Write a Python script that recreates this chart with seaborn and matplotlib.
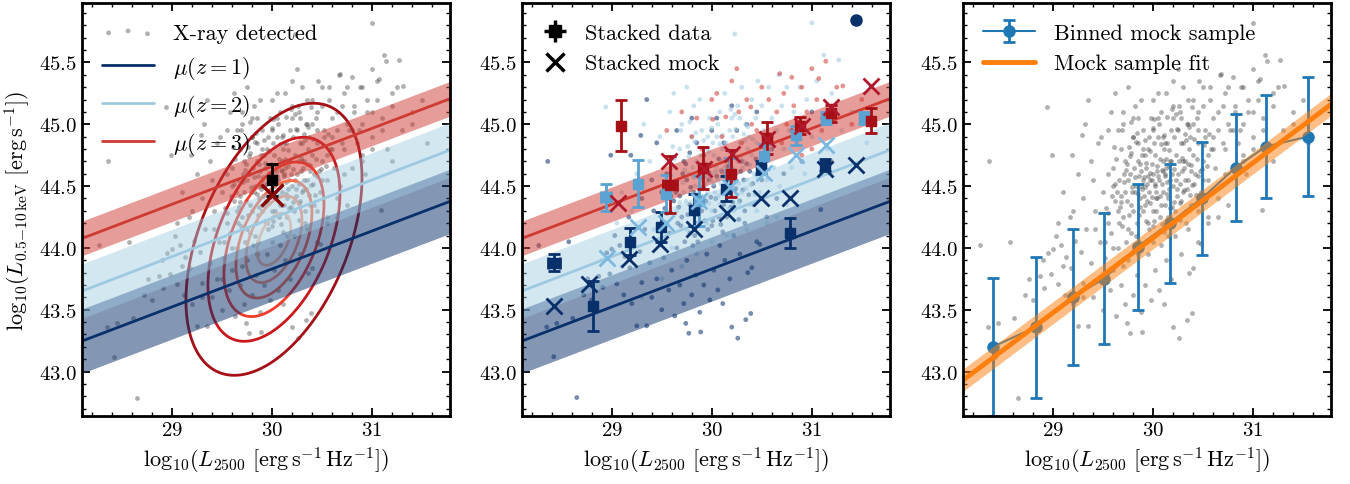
import numpy as np
import pandas as pd
import matplotlib
matplotlib.use("Agg")
import matplotlib.pyplot as plt
from matplotlib.ticker import MultipleLocator
import seaborn as sns

# ---------------- data ----------------
# X-ray detected sources, grouped by redshift bin
z1_x = [28.27,28.36,28.35,28.42,28.45,28.61,28.65,28.57,28.72,28.80,28.76,28.87,28.91,28.98,
        28.95,29.03,29.00,29.08,29.13,29.17,29.05,29.12,29.20,29.25,29.35,29.18,29.22,29.28,29.30,
        29.33,29.38,29.40,29.42,29.45,29.47,29.50,29.52,29.55,29.57,29.60,29.62,29.63,29.65,29.68,
        29.70,29.72,29.74,29.75,29.77,29.78,29.80,29.82,29.84,29.86,29.88,29.89,29.90,29.92,29.95,
        29.97,29.98,30.00,30.02,30.04,30.06,30.08,30.10,30.11,30.13,30.15,30.18,30.20,30.22,30.24,
        30.26,30.28,30.30,30.33,30.34,30.36,30.39,30.40,30.42,30.45,30.48,30.50,30.55,30.60,30.65,
        30.72,30.80,30.90,31.09,31.00,29.35,29.29,28.99,29.19,29.45,29.55,29.65,29.72,29.80,29.85,
        29.92,30.00,30.05,30.12,30.20,30.25,30.35,30.45,30.52,29.60,29.50,29.40,29.30,29.75,29.68,
        29.88,30.07,30.17,30.38,29.58,29.66,29.78,29.94,30.02,29.84,29.73,29.53,30.28,30.32,29.96,30.12,
        29.55,29.62,29.69,29.71,29.76,29.79,29.83,29.87,29.91,29.93,29.99,30.03,30.05,30.09,30.14,
        30.16,30.19,30.23,30.27,30.31,30.35,30.41,29.64,29.81,29.97,30.11,30.29,29.59,29.74,29.92,
        30.07,30.21,30.37,29.67,29.86,30.01,30.18,30.33,29.78,30.44]
z1_y = [44.02,44.70,43.36,43.12,43.39,43.43,42.79,44.05,43.62,43.58,43.75,43.77,43.68,43.79,
        43.96,44.10,43.99,44.02,43.93,44.25,43.71,43.62,43.55,43.37,43.37,43.84,44.06,43.97,43.72,
        44.15,43.88,43.60,44.30,43.75,44.05,43.50,43.92,44.20,43.66,43.82,44.38,43.45,44.00,43.70,
        44.25,43.55,43.39,43.90,43.31,44.12,43.62,44.45,43.78,44.05,43.48,43.32,44.30,43.70,43.95,
        44.55,43.58,44.18,43.82,44.40,43.66,44.02,44.62,43.55,43.90,44.25,43.75,43.36,44.10,44.48,
        43.27,43.95,44.70,44.20,43.42,43.80,43.47,43.84,44.35,44.05,44.03,44.55,44.25,44.80,44.40,
        44.60,44.95,44.70,44.31,45.10,45.20,44.91,44.75,44.75,44.85,44.60,44.95,44.70,45.05,44.85,
        44.75,44.95,45.05,44.85,45.15,44.95,45.00,45.10,44.90,44.50,44.45,44.55,44.40,44.55,44.42,
        44.62,44.72,44.55,44.62,44.12,44.20,44.35,44.38,44.50,44.20,44.05,44.32,44.38,44.55,44.15,44.35,
        44.28,44.52,44.18,44.60,44.27,44.49,44.10,44.33,44.57,44.22,44.41,44.30,44.58,44.19,44.44,
        44.66,44.33,44.55,44.23,44.47,44.68,44.52,44.45,44.02,44.61,44.13,44.62,44.42,44.68,44.49,
        44.25,44.37,44.43,44.33,44.27,44.22,44.70,44.30,44.77,44.72]
z2_x = [28.94,29.05,29.10,29.20,29.25,29.32,29.38,29.42,29.48,29.52,29.58,29.60,29.62,29.65,
        29.68,29.70,29.72,29.75,29.77,29.80,29.80,29.82,29.83,29.85,29.87,29.88,29.90,29.90,29.92,
        29.93,29.95,29.96,29.98,30.00,30.00,30.02,30.03,30.05,30.06,30.08,30.08,30.10,30.10,30.12,
        30.13,30.14,30.15,30.17,30.18,30.20,30.20,30.22,30.23,30.23,30.25,30.26,30.28,30.30,30.30,
        30.32,30.34,30.35,30.37,30.38,30.40,30.40,30.42,30.44,30.45,30.46,30.48,30.50,30.50,30.52,
        30.55,30.57,30.58,30.60,30.62,30.65,30.67,30.68,30.70,30.72,30.75,30.77,30.80,30.82,30.85,
        30.88,30.90,30.93,30.95,31.00,31.00,31.05,31.10,31.12,31.15,31.20,31.27,31.30,31.40,31.55,
        28.90,29.10,29.30,29.50,29.70,29.85,30.00,30.15,30.35,30.55,30.75,29.60,29.75,29.95,30.45,30.65,
        29.86,29.94,30.04,30.09,29.99,29.91,30.16,30.07,29.97,30.13,30.19,29.81,29.89,30.24,30.27,
        29.79,30.01,30.11,29.96,30.21,30.31,29.74,30.36,30.26,
        29.63,29.66,29.69,29.73,29.76,29.78,29.82,29.84,29.87,29.89,29.92,29.95,29.97,30.00,30.02,
        30.04,30.06,30.09,30.11,30.14,30.16,30.19,30.21,30.24,30.27,30.29,30.32,30.34,30.38,30.41,
        30.43,30.47,30.51,30.54,29.71,29.85,29.99,30.13,30.28,30.45,29.61,29.77,29.93,30.08,30.23,
        30.39,30.56,29.68,29.83,30.03,30.17,30.33,30.49,29.88,30.12,30.36]
z2_y = [45.14,44.20,44.45,44.30,44.60,45.00,44.70,44.15,44.90,44.05,45.10,44.65,45.25,44.30,
        44.80,45.00,44.45,45.30,44.60,44.30,44.90,45.15,44.50,44.70,44.40,45.20,44.55,44.95,44.35,
        44.65,44.80,44.45,45.05,44.60,44.30,44.75,44.45,44.90,44.55,44.35,45.10,44.70,44.45,44.60,
        45.25,44.85,44.40,44.70,44.95,44.50,45.05,44.30,44.75,45.73,44.60,45.15,44.85,44.45,45.30,
        44.70,45.00,44.55,44.90,44.35,45.20,44.75,44.60,45.05,44.85,45.35,44.45,44.70,45.15,44.95,
        44.55,45.30,44.80,45.05,44.65,44.95,45.40,44.50,45.15,44.80,45.30,44.95,44.65,45.10,44.85,
        45.30,45.00,44.60,45.20,44.90,45.82,45.35,45.05,45.56,44.80,45.25,45.52,44.95,45.10,44.85,
        43.90,43.85,43.60,43.75,43.85,43.95,44.05,44.10,44.15,44.20,44.35,44.00,44.15,44.20,44.30,44.25,
        44.58,44.52,44.62,44.52,44.68,44.42,44.48,44.42,44.36,44.65,44.60,44.65,44.75,44.42,44.52,
        44.45,44.85,44.80,44.90,44.90,44.65,44.38,44.80,44.70,
        44.72,44.55,44.95,44.63,44.82,45.02,44.57,44.93,44.68,44.48,44.87,44.58,44.78,44.97,44.52,
        44.66,45.00,44.63,44.91,44.53,44.79,45.12,44.64,44.96,44.36,44.73,44.92,44.48,44.67,44.88,
        44.43,44.62,44.83,44.66,44.53,44.44,44.55,44.72,45.05,44.58,44.82,44.74,44.69,44.84,45.08,
        44.51,44.92,44.37,44.86,44.40,44.32,44.87,44.64,44.50,44.58,44.98]
z3_x = [29.55,29.70,29.85,30.01,30.05,30.14,30.20,30.27,30.35,30.39,30.45,30.50,30.57,30.60,
        30.65,30.68,30.72,30.75,30.80,30.82,30.87,30.90,30.95,31.00,31.05,31.07,31.10,31.14,31.20,
        31.25,31.31,31.40,31.50,29.90,30.10,30.30,30.40,30.55,30.70,31.00,31.20,30.25,30.00,29.80,30.90]
z3_y = [44.95,45.10,45.05,45.04,45.25,45.06,45.35,45.10,45.20,45.14,44.95,45.30,45.20,44.90,
        45.10,45.41,45.25,45.00,45.38,45.15,44.95,45.30,45.10,45.45,45.20,45.37,44.95,45.51,45.15,
        45.30,45.31,45.00,45.20,44.80,44.90,44.85,45.00,44.75,44.85,44.80,44.70,45.45,45.20,44.90,44.75]

# relation mu(z): value at log L2500 = 30, slope, scatter half-width
mu_labels = [r"$\mu(z=1)$", r"$\mu(z=2)$", r"$\mu(z=3)$"]
mu_at30 = [43.83, 44.24, 44.66]
mu_slope = [0.307, 0.310, 0.307]
mu_width = [0.26, 0.22, 0.14]

# panel 1 stacked point
p1_x, p1_y, p1_err = [30.0], [44.55], [0.13]
p1_mock_x, p1_mock_y = [30.0], [44.43]

# density contours of mock sample (gaussian summary)
cont_mean = (30.02, 44.07)
cont_sig = (0.40, 0.50)
cont_rho = 0.45
cont_radii = [2.2, 1.65, 1.25, 0.95, 0.70, 0.42]

# panel 2 stacked data / mock per redshift bin
st1_x = [28.42, 28.81, 29.18, 29.49, 29.82, 30.14, 30.49, 30.78, 31.13]
st1_y = [43.88, 43.53, 44.05, 44.17, 44.31, 44.48, 44.65, 44.12, 44.67]
st1_ye = [0.07, 0.20, 0.11, 0.12, 0.13, 0.10, 0.05, 0.12, 0.05]
st1_xe = [0.06, 0.0, 0.0, 0.0, 0.0, 0.0, 0.0, 0.0, 0.0]
mk1_x = [28.42, 28.77, 29.17, 29.48, 29.82, 30.15, 30.49, 30.78, 31.13, 31.44]
mk1_y = [43.53, 43.71, 43.91, 44.03, 44.15, 44.28, 44.40, 44.40, 44.64, 44.67]
st2_x = [28.94, 29.26, 29.54, 29.87, 30.18, 30.52, 30.84, 31.14, 31.52]
st2_y = [44.41, 44.52, 44.44, 44.38, 44.60, 44.74, 44.91, 45.05, 45.05]
st2_ye = [0.11, 0.19, 0.15, 0.20, 0.13, 0.10, 0.08, 0.05, 0.05]
st2_xe = [0.05, 0.0, 0.0, 0.0, 0.0, 0.0, 0.0, 0.0, 0.0]
mk2_x = [28.95, 29.26, 29.54, 29.87, 30.18, 30.52, 30.84, 31.14]
mk2_y = [43.92, 44.17, 44.20, 44.38, 44.49, 44.61, 44.75, 44.83]
st3_x = [29.09, 29.58, 29.91, 30.19, 30.55, 30.88, 31.19, 31.59]
st3_y = [44.99, 44.51, 44.65, 44.60, 44.89, 44.99, 45.09, 45.03]
st3_ye = [0.21, 0.23, 0.17, 0.19, 0.13, 0.07, 0.07, 0.10]
st3_xe = [0.0, 0.07, 0.0, 0.0, 0.0, 0.0, 0.0, 0.0]
mk3_x = [29.06, 29.57, 29.92, 30.20, 30.55, 30.90, 31.19, 31.59]
mk3_y = [44.36, 44.70, 44.64, 44.76, 44.88, 44.99, 45.14, 45.31]
outlier_x, outlier_y = [31.44], [45.84]

# panel 3 binned mock sample and fit
bin_x = [28.40, 28.83, 29.20, 29.51, 29.85, 30.17, 30.49, 30.83, 31.13, 31.55]
bin_y = [43.20, 43.36, 43.60, 43.75, 44.01, 44.20, 44.40, 44.65, 44.82, 44.90]
bin_e = [0.56, 0.57, 0.55, 0.53, 0.51, 0.48, 0.46, 0.43, 0.42, 0.48]
fit_at30, fit_slope, fit_width = 44.08, 0.606, 0.09

# ---------------- style ----------------
sns.set_style("ticks")
plt.rcParams.update({
    "font.family": ["cmr10", "DejaVu Serif"],
    "mathtext.fontset": "cm",
    "axes.formatter.use_mathtext": True,
    "axes.linewidth": 2.0,
    "axes.edgecolor": "black", "axes.labelcolor": "black", "text.color": "black",
    "xtick.color": "black", "ytick.color": "black",
    "xtick.direction": "in", "ytick.direction": "in",
    "xtick.top": True, "ytick.right": True,
    "xtick.major.size": 6, "ytick.major.size": 6,
    "xtick.minor.size": 3, "ytick.minor.size": 3,
    "xtick.major.width": 1.3, "ytick.major.width": 1.3,
    "xtick.minor.width": 1.0, "ytick.minor.width": 1.0,
    "xtick.labelsize": 15, "ytick.labelsize": 15,
    "legend.fontsize": 16,
})

NAVY, LBLUE, RED = "#08306b", "#9ecae1", "#cf3a32"
mu_cols = [NAVY, LBLUE, RED]
band_alpha = [0.5, 0.45, 0.5]

XLIM, YLIM = (28.1, 31.78), (42.64, 45.98)
xgrid = np.array(XLIM)

fig = plt.figure(figsize=(13.5, 4.85), dpi=100)
lefts = [0.0607, 0.3865, 0.7131]
axes = [fig.add_axes([l, 0.140, 0.2726, 0.8515]) for l in lefts]

all_x = z1_x + z2_x + z3_x
all_y = z1_y + z2_y + z3_y
df_all = pd.DataFrame({"x": all_x, "y": all_y,
                       "z": ["1"] * len(z1_x) + ["2"] * len(z2_x) + ["3"] * len(z3_x)})

XLABEL = r"$\mathrm{log}_{10}(L_{2500}\ [\mathrm{erg\,s^{-1}\,Hz^{-1}}])$"
YLABEL = r"$\mathrm{log}_{10}(L_{0.5\!-\!10\,\mathrm{keV}}\ [\mathrm{erg\,s^{-1}}])$"


def draw_mu(ax):
    for lab, a, b, w, c, al in zip(mu_labels, mu_at30, mu_slope, mu_width, mu_cols, band_alpha):
        yy = a + b * (xgrid - 30)
        ax.fill_between(xgrid, yy - w, yy + w, color=c, alpha=al, lw=0, zorder=2)
        ax.plot(xgrid, yy, color=c, lw=2, label=lab, zorder=3)


def style(ax):
    ax.set_xlim(*XLIM)
    ax.set_ylim(*YLIM)
    ax.xaxis.set_major_locator(MultipleLocator(1))
    ax.xaxis.set_minor_locator(MultipleLocator(0.2))
    ax.yaxis.set_major_locator(MultipleLocator(0.5))
    ax.yaxis.set_minor_locator(MultipleLocator(0.1))
    ax.set_xlabel(XLABEL, fontsize=16)
    ax.set_ylabel("")
    for s in ax.spines.values():
        s.set_linewidth(2.0)
        s.set_zorder(10)


LEG = dict(loc="upper left", frameon=False, borderaxespad=0.5, labelspacing=0.5)

# ---- panel 1 ----
ax = axes[0]
sns.scatterplot(data=df_all, x="x", y="y", ax=ax, color="#444444", alpha=0.42, s=12,
                linewidth=0, label="X-ray detected", zorder=1)
gx = np.linspace(XLIM[0], XLIM[1], 300)
gy = np.linspace(YLIM[0], YLIM[1], 300)
GX, GY = np.meshgrid(gx, gy)
u = (GX - cont_mean[0]) / cont_sig[0]
v = (GY - cont_mean[1]) / cont_sig[1]
r2 = (u * u - 2 * cont_rho * u * v + v * v) / (1 - cont_rho ** 2)
dens = np.exp(-0.5 * r2)
levels = sorted(np.exp(-0.5 * np.array(cont_radii) ** 2))
ax.contour(GX, GY, dens, levels=levels,
           colors=["#a50f15", "#cb181d", "#ef3b2c", "#fb6a4a", "#fc9272", "#fcbba1"],
           linewidths=2, zorder=1.5)
draw_mu(ax)
ax.errorbar(p1_x, p1_y, yerr=p1_err, fmt="s", color="black", ms=7, capsize=4,
            elinewidth=2, capthick=2, zorder=6)
ax.plot(p1_mock_x, p1_mock_y, "x", color="#8b0000", ms=16, mew=2.5, zorder=7)
style(ax)
ax.set_ylabel(YLABEL, fontsize=16)
ax.legend(handlelength=2.35, handletextpad=0.85, scatterpoints=3, **LEG)

# ---- panel 2 ----
ax = axes[1]
sns.scatterplot(data=df_all, x="x", y="y", hue="z", palette={"1": NAVY, "2": LBLUE, "3": RED},
                ax=ax, alpha=0.55, s=12, linewidth=0, legend=False, zorder=1)
draw_mu(ax)
st_cols = [NAVY, "#5aa2d2", "#a50f15"]
mk_cols = [NAVY, "#7db8de", "#b2182b"]
for (sx, sy, sxe, sye, mx, my, sc, mc) in [
        (st1_x, st1_y, st1_xe, st1_ye, mk1_x, mk1_y, st_cols[0], mk_cols[0]),
        (st2_x, st2_y, st2_xe, st2_ye, mk2_x, mk2_y, st_cols[1], mk_cols[1]),
        (st3_x, st3_y, st3_xe, st3_ye, mk3_x, mk3_y, st_cols[2], mk_cols[2])]:
    ax.errorbar(sx, sy, xerr=sxe, yerr=sye, fmt="s", color=sc, ms=7, capsize=4,
                elinewidth=2, capthick=2, zorder=6)
    ax.plot(mx, my, "x", color=mc, ms=11, mew=2, zorder=7)
ax.plot(outlier_x, outlier_y, "o", color=NAVY, ms=8, zorder=7)
h1 = ax.errorbar([], [], xerr=[], yerr=[], fmt="s", color="black", ms=9, capsize=5,
                 elinewidth=2.5, capthick=2.5, label="Stacked data")
h2, = ax.plot([], [], "x", color="black", ms=13, mew=2.5, label="Stacked mock")
style(ax)
ax.legend(handles=[h1, h2], handlelength=1.2, handletextpad=0.75, **LEG)

# ---- panel 3 ----
ax = axes[2]
sns.scatterplot(data=df_all, x="x", y="y", ax=ax, color="#444444", alpha=0.42, s=12,
                linewidth=0, legend=False, zorder=1)
hb = ax.errorbar(bin_x, bin_y, yerr=bin_e, fmt="-o", color="#1f77b4", ms=8, capsize=4,
                 elinewidth=2, capthick=2, lw=1.5, label="Binned mock sample", zorder=3)
fy = fit_at30 + fit_slope * (xgrid - 30)
ax.fill_between(xgrid, fy - fit_width, fy + fit_width, color="#ff7f0e", alpha=0.5, lw=0, zorder=4)
sns.lineplot(x=xgrid, y=fy, ax=ax, color="#ff7f0e", lw=3.5, label="Mock sample fit", zorder=5)
style(ax)
hh, ll = ax.get_legend_handles_labels()
order = [ll.index("Binned mock sample"), ll.index("Mock sample fit")]
ax.legend([hh[i] for i in order], [ll[i] for i in order], handlelength=2.35,
          handletextpad=0.85, **LEG)

fig.savefig("out.png", dpi=100)
